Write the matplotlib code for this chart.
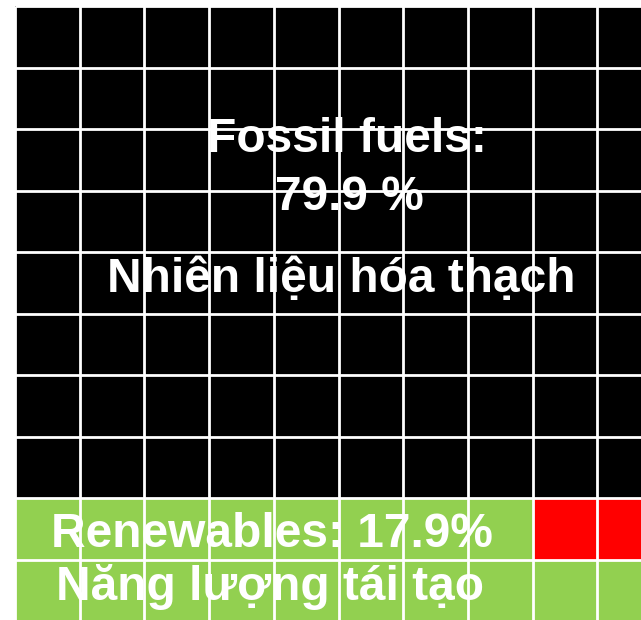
import matplotlib
matplotlib.use("Agg")
import numpy as np
from matplotlib import pyplot as plt
from matplotlib.colors import ListedColormap

# waffle data: cells per category, filled from bottom-left row by row
categories = ["Renewables", "Nuclear", "Fossil fuels"]
cell_counts = [18, 2, 80]
colors = ["#92d050", "#ff0000", "#000000"]

labels = [
    ("Fossil fuels:", 5.13, 2.37),
    ("79.9 %", 5.17, 3.32),
    ("Nhiên liệu hóa thạch", 5.04, 4.65),
    ("Renewables: 17.9%", 3.97, 8.80),
    ("Năng lượng tái tạo", 3.94, 9.66),
]

n_rows, n_cols = 10, 10

codes = np.repeat(np.arange(len(categories)), cell_counts)
grid = codes.reshape(n_rows, n_cols)[::-1]  # first row filled is the bottom row

plt.rcParams["font.family"] = ["Liberation Sans", "DejaVu Sans"]

fig = plt.figure(figsize=(6.41, 6.20), dpi=100)
ax = fig.add_axes([15 / 641, -1 / 620, 647 / 641, 615 / 620])

ax.pcolormesh(np.arange(n_cols + 1), np.arange(n_rows + 1), grid,
              cmap=ListedColormap(colors), vmin=-0.5, vmax=len(categories) - 0.5,
              zorder=1)

for text, x, y in labels:
    ax.text(x, y, text, color="white", fontsize=34.5, fontweight="bold",
            ha="center", va="baseline", zorder=2)

ax.vlines(np.arange(n_cols + 1), 0, n_rows, color="white", linewidth=2, zorder=3)
ax.hlines(np.arange(n_rows + 1), 0, n_cols, color="white", linewidth=2, zorder=3)

ax.set_xlim(0, n_cols)
ax.set_ylim(n_rows, 0)
ax.axis("off")

fig.savefig("out.png", dpi=100)
